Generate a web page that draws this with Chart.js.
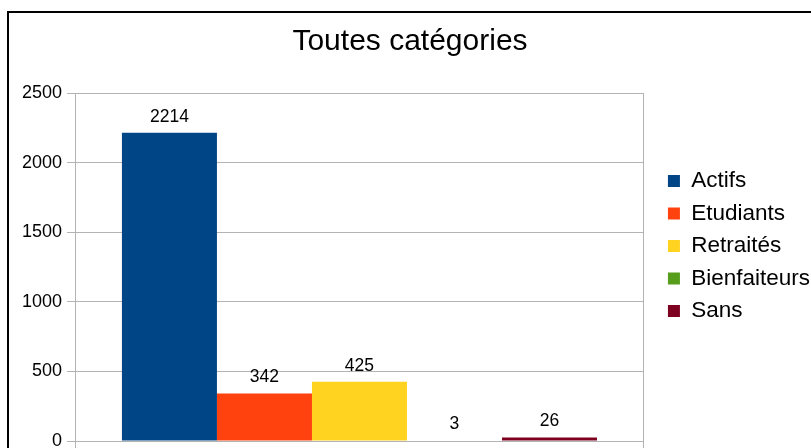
<!DOCTYPE html>
<html>
<head>
<meta charset="utf-8">
<script src="https://cdn.jsdelivr.net/npm/chart.js@4.4.1/dist/chart.umd.min.js"></script>
<style>
  html, body { margin: 0; padding: 0; background: #fff; overflow: hidden; }
  #wrap { position: relative; width: 811px; height: 448px; }
  #frame {
    position: absolute; left: 7px; top: 11px; width: 820px; height: 460px;
    border-left: 2px solid #000; border-top: 2px solid #000; box-sizing: border-box;
  }
  canvas { position: absolute; left: 0; top: 0; }
</style>
</head>
<body>
<div id="wrap">
  <div id="frame"></div>
  <canvas id="chart" width="811" height="448"></canvas>
</div>
<script>
const categories = ["Toutes catégories"];
const seriesNames = ["Actifs", "Etudiants", "Retraités", "Bienfaiteurs", "Sans"];
const seriesValues = [2214, 342, 425, 3, 26];
const yTicks = [0, 500, 1000, 1500, 2000, 2500];

const COLORS = ["#004586", "#ff420e", "#ffd320", "#579d1c", "#7e0021"];
const FONT = "'Liberation Sans', Arial, sans-serif";
const GRID = "#b3b3b3";

// value labels above each bar
const barValues = {
    id: "barValues",
    afterDatasetsDraw(chart) {
        const ctx = chart.ctx;
        ctx.save();
        ctx.font = "17.5px " + FONT;
        ctx.fillStyle = "#000";
        ctx.textAlign = "center";
        ctx.textBaseline = "middle";
        chart.data.datasets.forEach((ds, i) => {
            const meta = chart.getDatasetMeta(i);
            meta.data.forEach((bar, j) => {
                ctx.fillText(String(ds.data[j]), bar.x, bar.y - 16);
            });
        });
        ctx.restore();
    }
};

const datasets = seriesNames.map((name, i) => ({
    label: name,
    data: [seriesValues[i]],
    backgroundColor: COLORS[i],
    borderWidth: 0
}));

new Chart(document.getElementById("chart"), {
    type: "bar",
    data: { labels: categories, datasets: datasets },
    options: {
        responsive: false,
        animation: false,
        layout: { padding: { left: 0, right: -9, top: 40, bottom: -4 } },
        datasets: {
            bar: { categoryPercentage: 0.835, barPercentage: 1.0 }
        },
        plugins: {
            title: {
                display: true,
                text: "Toutes catégories",
                color: "#000",
                font: { family: FONT, size: 30, weight: "normal" },
                padding: { top: -16, bottom: 33 }
            },
            legend: {
                position: "right",
                maxWidth: 220,
                labels: {
                    color: "#000",
                    font: { family: FONT, size: 22.5 },
                    boxWidth: 12,
                    boxHeight: 12,
                    padding: 10
                }
            },
            tooltip: { enabled: false }
        },
        scales: {
            x: {
                afterFit: s => { s.height = 11; },
                grid: { color: GRID, tickLength: 7 },
                border: { color: GRID },
                ticks: { display: false }
            },
            y: {
                min: 0,
                max: 2500,
                afterFit: s => { s.width = 75; s.paddingTop = 0; s.paddingBottom = 0; },
                afterBuildTicks: s => { s.ticks = yTicks.map(v => ({ value: v })); },
                grid: { color: GRID, tickLength: 8 },
                border: { color: GRID },
                ticks: {
                    color: "#000",
                    padding: 5,
                    font: { family: FONT, size: 18 },
                    callback: v => String(v)
                }
            },
            // empty spacer between plot and legend
            gap: {
                position: "right",
                display: true,
                afterFit: s => { s.width = 14; },
                grid: { display: false },
                border: { display: false },
                ticks: { display: false }
            }
        }
    },
    plugins: [barValues]
});
</script>
</body>
</html>
